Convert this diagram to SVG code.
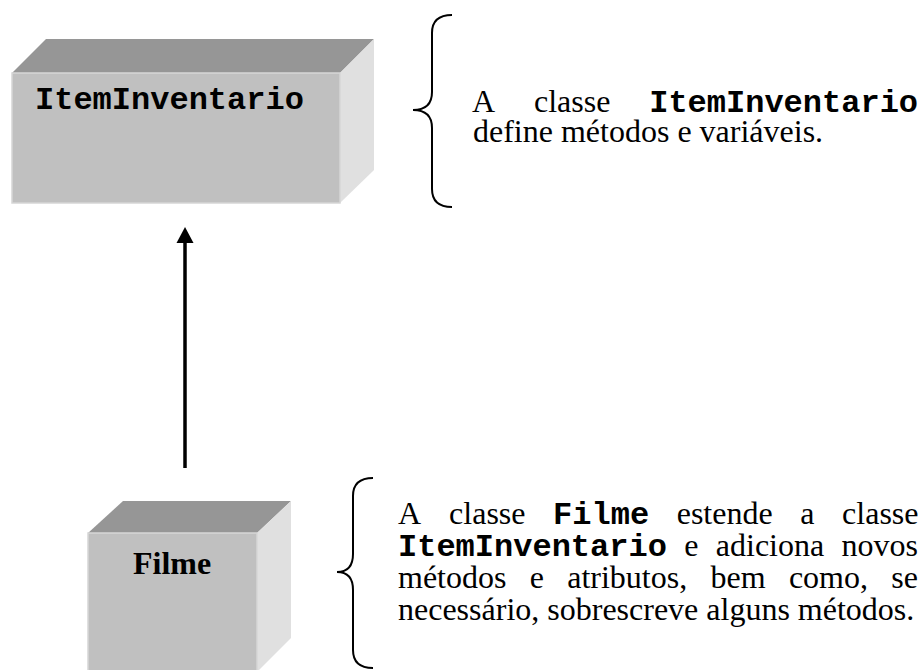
<svg xmlns="http://www.w3.org/2000/svg" width="924" height="670" viewBox="0 0 924 670">
<defs>
<style>
.front{fill:#c0c0c0;stroke:#d6d6d6;stroke-width:1.5}
.top{fill:#969696}
.side{fill:#e0e0e0}
.serif{font-family:"Liberation Serif","Times New Roman",serif;font-size:32px;fill:#000}
.mono{font-family:"Liberation Mono","Courier New",monospace;font-size:32px;font-weight:bold;fill:#000}
.brace{fill:none;stroke:#000;stroke-width:2}
</style>
</defs>
<rect width="924" height="670" fill="#fff"/>

<g id="ItemInventario">
<polygon class="top" points="12,73 46,39 374,39 340,73"/>
<polygon class="side" points="340,73 374,39 374,170 340,203"/>
<rect class="front" x="12" y="73" width="328" height="130"/>
<text class="mono" x="35" y="109">ItemInventario</text>
</g>

<g id="Filme">
<polygon class="top" points="88,533 123,501 291,501 257,533"/>
<polygon class="side" points="257,533 291,501 291,638 257,672"/>
<rect class="front" x="88" y="533" width="169" height="140"/>
<text class="serif" x="133" y="574" font-weight="bold">Filme</text>
</g>

<g id="connectors">
<line x1="185" y1="468" x2="185" y2="242" stroke="#000" stroke-width="3.5"/>
<path d="M176.5,243 L185,227 L193.5,243 Z" fill="#000"/>
</g>

<g id="note1">
<path class="brace" d="M452,15 Q432,15 432,33 L432,92 Q432,110 413,110 Q432,110 432,128 L432,189 Q432,207 452,207"/>
<text class="serif" y="112"><tspan x="472">A</tspan><tspan x="534">classe</tspan><tspan x="649.2" class="mono">ItemInventario</tspan></text>
<text class="serif" x="473" y="142">define métodos e variáveis.</text>
</g>

<g id="note2">
<path class="brace" d="M373,478 Q353,478 353,496 L353,554 Q353,572 337,572 Q353,572 353,590 L353,650 Q353,668 373,668"/>
<text class="serif" y="524"><tspan x="398">A</tspan><tspan x="449.1">classe</tspan><tspan x="553.1" class="mono">Filme</tspan><tspan x="676.7">estende</tspan><tspan x="800.3">a</tspan><tspan x="842.1">classe</tspan></text>
<text class="serif" y="556"><tspan x="398" class="mono">ItemInventario</tspan><tspan x="684.2">e</tspan><tspan x="715.8">adiciona</tspan><tspan x="841.6">novos</tspan></text>
<text class="serif" y="588"><tspan x="398">métodos</tspan><tspan x="529.7">e</tspan><tspan x="567.2">atributos,</tspan><tspan x="710.5">bem</tspan><tspan x="788.9">como,</tspan><tspan x="891.3">se</tspan></text>
<text class="serif" x="398" y="620">necessário, sobrescreve alguns métodos.</text>
</g>
</svg>
